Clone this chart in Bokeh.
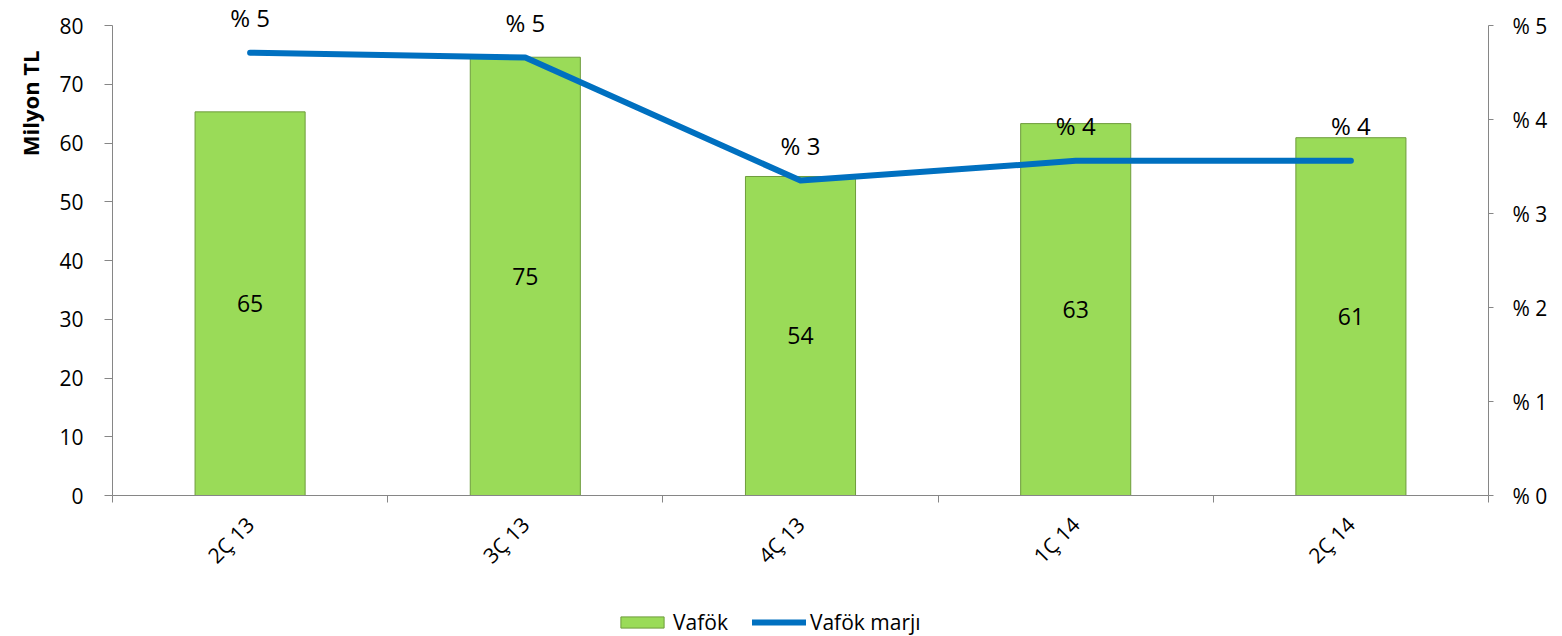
from math import pi
from bokeh.plotting import figure
from bokeh.layouts import column
from bokeh.models import (Range1d, LinearAxis, FixedTicker, Legend, LegendItem,
                          ColumnDataSource, Title)
from bokeh.core.properties import value
from bokeh.embed import file_html
from bokeh.resources import INLINE

categories = ["2Ç 13", "3Ç 13", "4Ç 13", "1Ç 14", "2Ç 14"]
vafok = [65.3, 74.6, 54.3, 63.3, 60.9]
vafok_labels = ["65", "75", "54", "63", "61"]
marj = [4.71, 4.66, 3.35, 3.56, 3.56]
marj_labels = ["% 5", "% 5", "% 3", "% 4", "% 4"]
left_ticks = [0, 10, 20, 30, 40, 50, 60, 70, 80]
right_ticks = [0, 1, 2, 3, 4, 5]
right_tick_labels = ["% 0", "% 1", "% 2", "% 3", "% 4", "% 5"]

FONT = "Open Sans"
GREY = "#868686"
BAR_FILL = "#9ADB58"
BAR_LINE = "#6E9C3C"
LINE_COLOR = "#0070C0"

n = len(categories)
idx = list(range(n))
src = ColumnDataSource(dict(x=idx, v=vafok, vmid=[x / 2 for x in vafok],
                            vl=vafok_labels, m=marj, ml=marj_labels))

# frame reaches the top of the canvas so labels above the highest point are not clipped;
# the axes themselves are bounded to 0..80 and %0..%5
p = figure(frame_width=1376, frame_height=495, output_backend="svg", toolbar_location=None,
           x_range=Range1d(-0.5, n - 0.5), y_range=Range1d(0, 80 * 495 / 470),
           x_axis_location=None, y_axis_location=None,
           min_border_left=112, min_border_right=74, min_border_top=0, min_border_bottom=111)
p.extra_y_ranges = {"pct": Range1d(0, 5 * 495 / 470)}
p.outline_line_color = None
p.xgrid.visible = False
p.ygrid.visible = False
p.background_fill_color = "white"

# left axis
yl = LinearAxis(ticker=FixedTicker(ticks=left_ticks), bounds=(0, 80), axis_line_color=GREY,
                major_tick_line_color=GREY, major_tick_out=8, major_tick_in=0,
                minor_tick_line_color=None, major_label_text_font=FONT,
                major_label_text_font_size="21px", major_label_text_color="black",
                major_label_standoff=21)
p.add_layout(yl, "left")
p.add_layout(Title(text="Milyon TL", align="right", text_font=FONT, text_font_size="22px",
                   text_font_style="bold", text_color="black", offset=50, standoff=24), "left")

# right axis
yr = LinearAxis(y_range_name="pct", ticker=FixedTicker(ticks=right_ticks), bounds=(0, 5),
                major_label_overrides={t: l for t, l in zip(right_ticks, right_tick_labels)},
                axis_line_color=GREY, major_tick_line_color=GREY, major_tick_out=5,
                major_tick_in=0, minor_tick_line_color=None, major_label_text_font=FONT,
                major_label_text_font_size="21px", major_label_text_color="black",
                major_label_standoff=19)
p.add_layout(yr, "right")

# bottom axis: labels at category centres, small ticks at category boundaries
xc = LinearAxis(ticker=FixedTicker(ticks=idx, minor_ticks=[i - 0.5 for i in range(n + 1)]),
                major_label_overrides={i: c for i, c in zip(idx, categories)},
                axis_line_color=GREY, major_tick_line_color=None, major_tick_out=0,
                major_tick_in=0, minor_tick_line_color=GREY, minor_tick_out=7, minor_tick_in=0,
                major_label_orientation=pi / 4, major_label_text_font=FONT,
                major_label_text_font_size="21px", major_label_text_color="black",
                major_label_standoff=18)
p.add_layout(xc, "below")

bars = p.vbar(x="x", top="v", width=0.4, source=src, fill_color=BAR_FILL,
              line_color=BAR_LINE, line_width=1)
p.text(x="x", y="vmid", text="vl", source=src, text_font=value(FONT),
       text_font_size="23px", text_align="center", text_baseline="middle", text_color="black")

line = p.line(x="x", y="m", source=src, y_range_name="pct", line_color=LINE_COLOR,
              line_width=6, line_cap="round", line_join="round")
p.text(x="x", y="m", text="ml", source=src, y_range_name="pct", y_offset=-35,
       text_font=value(FONT), text_font_size="24px", text_align="center",
       text_baseline="middle", text_color="black")

# legend strip under the chart: its renderers use the same data but lie outside
# this strip's (empty) view, so only the legend itself shows
lg = figure(width=1562, height=30, output_backend="svg", toolbar_location=None,
            x_range=Range1d(-0.5, n - 0.5), y_range=Range1d(1000, 1001),
            x_axis_location=None, y_axis_location=None, min_border=0)
lg.outline_line_color = None
lg.xgrid.visible = False
lg.ygrid.visible = False
lsrc = ColumnDataSource(dict(x=idx, v=vafok, m=marj))
lb = lg.vbar(x="x", top="v", width=0.4, source=lsrc, fill_color=BAR_FILL,
             line_color=BAR_LINE, line_width=1)
ll = lg.line(x="x", y="m", source=lsrc, line_color=LINE_COLOR, line_width=6, line_cap="round")
legend = Legend(items=[LegendItem(label="Vafök", renderers=[lb]),
                       LegendItem(label="Vafök marjı", renderers=[ll])],
                orientation="horizontal", location=(503, 0), border_line_color=None,
                background_fill_alpha=0, label_text_font=FONT, label_text_font_size="21px",
                label_text_color="black", glyph_width=54, glyph_height=14, spacing=24,
                label_standoff=4, padding=0, margin=0)
lg.add_layout(legend, "center")

layout = column(p, lg, spacing=0)
open("out.html", "w").write(file_html(layout, INLINE))
